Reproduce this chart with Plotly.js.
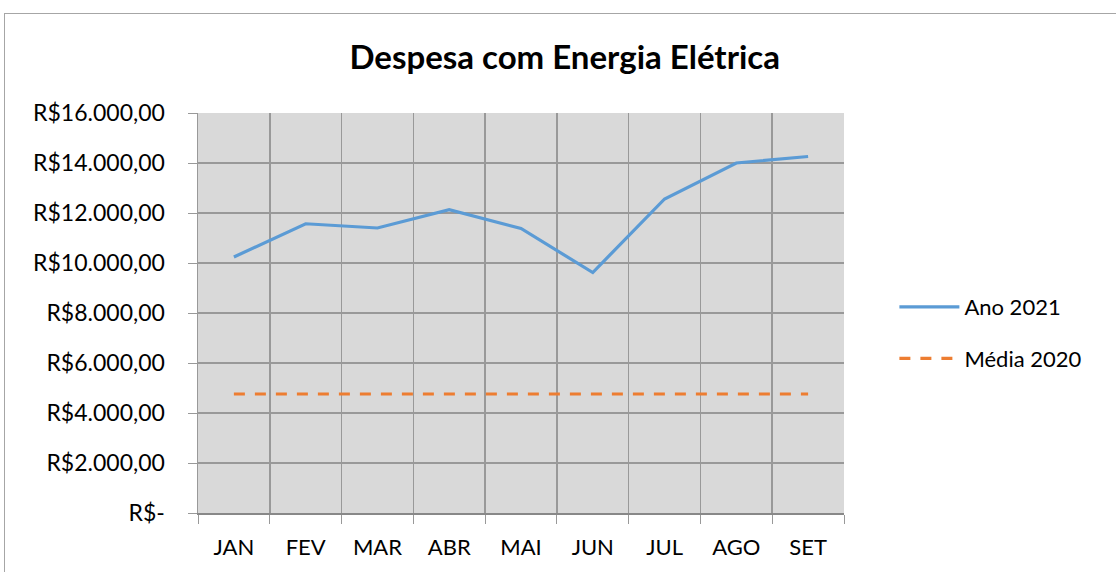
<!DOCTYPE html>
<html>
<head>
<meta charset="utf-8">
<script src="https://cdn.plot.ly/plotly-3.0.1.min.js"></script>
<style>
html,body{margin:0;padding:0;background:#fff;overflow:hidden;}
#frame{position:absolute;left:4px;top:13px;width:1200px;height:700px;border:1px solid #a6a6a6;box-sizing:border-box;}
#chart{position:absolute;left:0;top:0;width:1116px;height:572px;}
</style>
</head>
<body>
<div id="frame"></div>
<div id="chart"></div>
<script>
const months = ["JAN","FEV","MAR","ABR","MAI","JUN","JUL","AGO","SET"];
const ano2021 = [10240, 11570, 11400, 12130, 11380, 9620, 12560, 14000, 14260];
const media2020 = [4760, 4760, 4760, 4760, 4760, 4760, 4760, 4760, 4760];
const yTickVals = [0, 2000, 4000, 6000, 8000, 10000, 12000, 14000, 16000];
const yTickText = ["R$-", "R$2.000,00", "R$4.000,00", "R$6.000,00", "R$8.000,00", "R$10.000,00", "R$12.000,00", "R$14.000,00", "R$16.000,00"];

const font = "Lato, 'Open Sans', sans-serif";
const traces = [
  {x: months, y: ano2021, name: "Ano 2021", type: "scatter", mode: "lines", legendgroup: "a",
   line: {color: "#5B9BD5", width: 3.2}},
  {x: months, y: media2020, name: "Média 2020", type: "scatter", mode: "lines", legendgroup: "b",
   line: {color: "#ED7D31", width: 3.2, dash: "11px,10px"}}
];
const layout = {
  width: 1116, height: 572,
  paper_bgcolor: "rgba(0,0,0,0)",
  plot_bgcolor: "#D9D9D9",
  margin: {l: 198, r: 272, t: 113, b: 59},
  title: {text: "Despesa com Energia Elétrica", x: 0.506, xanchor: "center", y: 0.9, yanchor: "middle",
          font: {family: font, size: 33, color: "#000", weight: "bold"}},
  xaxis: {type: "category", range: [-0.5, 8.5], tickson: "boundaries", showgrid: true, gridcolor: "#999", gridwidth: 1.5,
          ticks: "outside", ticklen: 9, tickcolor: "#999", showline: true, linecolor: "#888", linewidth: 1.5,
          ticklabelstandoff: 14,
          tickfont: {family: font, size: 22, color: "#000"}, fixedrange: true, zeroline: false},
  yaxis: {range: [0, 16000], tickvals: yTickVals, ticktext: yTickText, showgrid: true, gridcolor: "#999", gridwidth: 1.5,
          ticks: "outside", ticklen: 9, tickcolor: "#999", showline: true, linecolor: "#999", linewidth: 1.5,
          zeroline: false, ticklabelstandoff: 18,
          tickfont: {family: font, size: 23, color: "#000"}, fixedrange: true},
  legend: {x: 1.078, xanchor: "left", y: 0.45, yanchor: "middle", font: {family: font, size: 22, color: "#000"},
           bgcolor: "rgba(0,0,0,0)", tracegroupgap: 20, traceorder: "grouped", itemwidth: 60},
  showlegend: true
};
Plotly.newPlot("chart", traces, layout, {displayModeBar: false, staticPlot: true});
</script>
</body>
</html>
